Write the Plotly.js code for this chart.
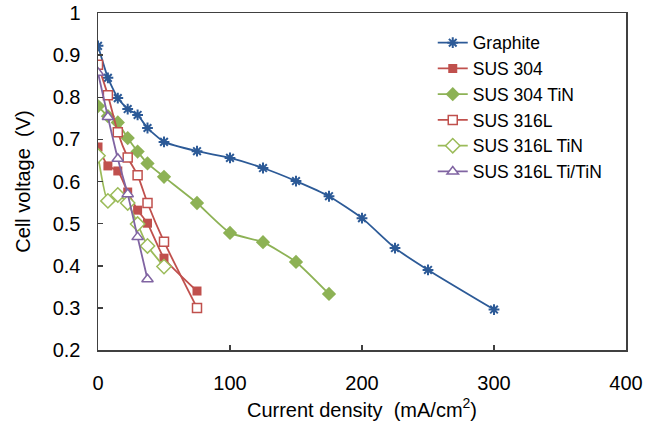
<!DOCTYPE html>
<html>
<head>
<meta charset="utf-8">
<script src="https://cdn.plot.ly/plotly-3.0.1.min.js"></script>
<style>html,body{margin:0;padding:0;background:#fff;}#chart{width:658px;height:425px;}</style>
</head>
<body>
<div id="chart"></div>
<script>
// Current density (mA/cm2)
const xGraphite = [0, 7.5, 15, 22.5, 30, 37.5, 50, 75, 100, 125, 150, 175, 200, 225, 250, 300];
const yGraphite = [0.922, 0.846, 0.798, 0.772, 0.758, 0.727, 0.694, 0.672, 0.656, 0.632, 0.601, 0.565, 0.513, 0.442, 0.390, 0.296];

const xSus304 = [0, 7.5, 15, 22.5, 30, 37.5, 50, 75];
const ySus304 = [0.682, 0.637, 0.625, 0.575, 0.532, 0.501, 0.418, 0.340];

const xSus304TiN = [0, 7.5, 15, 22.5, 30, 37.5, 50, 75, 100, 125, 150, 175];
const ySus304TiN = [0.779, 0.755, 0.740, 0.703, 0.671, 0.643, 0.611, 0.549, 0.478, 0.456, 0.409, 0.333];

const xSus316L = [0, 7.5, 15, 22.5, 30, 37.5, 50, 75];
const ySus316L = [0.877, 0.805, 0.717, 0.657, 0.615, 0.549, 0.457, 0.300];

const xSus316LTiN = [0, 7.5, 15, 22.5, 30, 37.5, 50];
const ySus316LTiN = [0.661, 0.554, 0.568, 0.549, 0.499, 0.447, 0.398];

const xSus316LTiTiN = [0, 7.5, 15, 22.5, 30, 37.5];
const ySus316LTiTiN = [0.858, 0.753, 0.654, 0.570, 0.468, 0.368];

const names = ["Graphite", "SUS 304", "SUS 304 TiN", "SUS 316L", "SUS 316L TiN", "SUS 316L Ti/TiN"];
const xTickVals = [0, 100, 200, 300, 400];
const yTickVals = [0.2, 0.3, 0.4, 0.5, 0.6, 0.7, 0.8, 0.9, 1];
const yTickText = ["0.2", "0.3", "0.4", "0.5", "0.6", "0.7", "0.8", "0.9", "1"];

const blue = "#2C5A97", red = "#C0504D", green = "#8DB255", lgreen = "#9BBB59", purple = "#8064A2";

function tr(x, y, name, color, symbol, size, fill, mlw) {
  return {
    x: x, y: y, name: name, type: "scatter", mode: "lines+markers",
    line: {color: color, width: 1.8, shape: "spline", smoothing: 0.5},
    marker: {symbol: symbol, size: size, color: fill, line: {color: color, width: mlw}}
  };
}

const data = [
  tr(xGraphite, yGraphite, names[0], blue, "asterisk-open", 9, blue, 2),
  tr(xSus304, ySus304, names[1], red, "square", 9, red, 0),
  tr(xSus304TiN, ySus304TiN, names[2], green, "diamond", 11, green, 0),
  tr(xSus316L, ySus316L, names[3], red, "square", 9, "#fff", 1.5),
  tr(xSus316LTiN, ySus316LTiN, names[4], lgreen, "diamond", 11, "#fff", 1.5),
  tr(xSus316LTiTiN, ySus316LTiTiN, names[5], purple, "triangle-up", 10, "#fff", 1.5)
];

const axisFont = {family: "Liberation Sans, Arial, sans-serif", size: 20, color: "#000"};

const layout = {
  width: 658, height: 425,
  margin: {l: 98, r: 32, t: 13, b: 75},
  paper_bgcolor: "#fff", plot_bgcolor: "#fff",
  font: axisFont,
  showlegend: true,
  legend: {x: 0.634, y: 0.965, xanchor: "left", yanchor: "top",
           font: {family: "Liberation Sans, Arial, sans-serif", size: 17.5, color: "#000"},
           bgcolor: "rgba(0,0,0,0)", borderwidth: 0, tracegroupgap: 0},
  xaxis: {range: [0, 400], tickvals: xTickVals, showgrid: false, zeroline: false,
          showline: true, mirror: true, linecolor: "#404040", linewidth: 1.5,
          ticks: "inside", ticklen: 5, tickcolor: "#404040", tickwidth: 1.5,
          tickfont: axisFont, ticklabelstandoff: 14,
          title: {text: "Current density  (mA/cm<sup>2</sup>)", font: axisFont, standoff: 10}},
  yaxis: {range: [0.2, 1], tickvals: yTickVals, ticktext: yTickText, showgrid: false, zeroline: false,
          showline: true, mirror: true, linecolor: "#404040", linewidth: 1.5,
          ticks: "inside", ticklen: 5, tickcolor: "#404040", tickwidth: 1.5,
          tickfont: axisFont, ticklabelstandoff: 12,
          title: {text: "Cell voltage  (V)", font: axisFont, standoff: 16}}
};

Plotly.newPlot("chart", data, layout, {displayModeBar: false, staticPlot: true});
</script>
</body>
</html>
